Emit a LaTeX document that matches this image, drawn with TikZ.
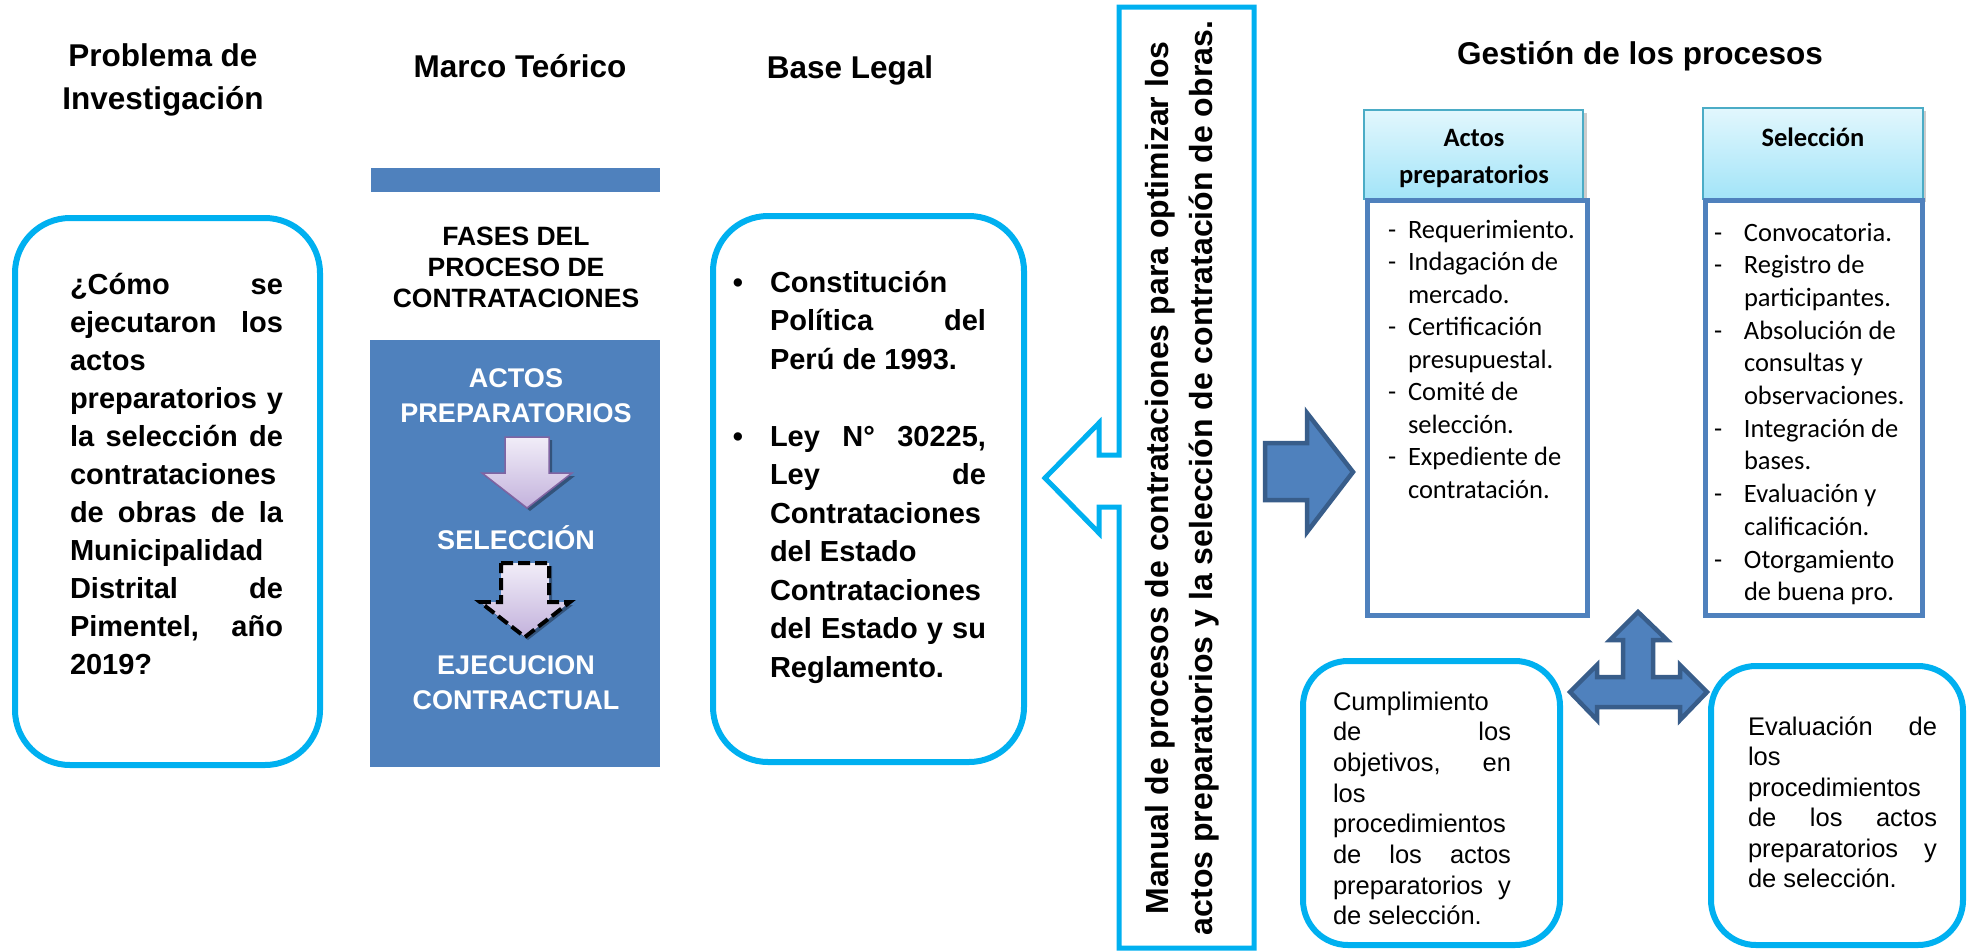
\documentclass[tikz,border=0pt]{standalone}
\usepackage{fontspec}
\setmainfont{Liberation Sans}
\newfontfamily\carlito{Carlito}
\usetikzlibrary{shadows}
\definecolor{cyanb}{HTML}{00B0F0}
\definecolor{blu}{HTML}{4F81BD}
\definecolor{dblu}{HTML}{385D8A}
\definecolor{hdrtop}{HTML}{E2F7FD}
\definecolor{hdrbot}{HTML}{A2E4F8}
\definecolor{hdrline}{HTML}{4BACC6}
\definecolor{lavtop}{HTML}{F1EDF8}
\definecolor{lavbot}{HTML}{C3B2DC}
\definecolor{purp}{HTML}{8064A2}
\newcommand{\jl}[2]{\makebox[#1][s]{#2}}
\newcommand{\fs}[2]{\fontsize{#1}{#2}\selectfont}
\tikzset{
  cbox/.style={draw=cyanb, line width=6pt, rounded corners=55pt, fill=white},
  sbox/.style={draw=cyanb, line width=6pt, rounded corners=45pt, fill=white},
  txt/.style={inner sep=0pt, outer sep=0pt, anchor=base},
  ttl/.style={txt, font={\fs{31.5}{42.6}\bfseries}},
  hdr/.style={draw=hdrline, line width=1.5pt, top color=hdrtop, bottom color=hdrbot},
  body/.style={draw=blu, line width=5pt, fill=white},
  barrow/.style={draw=dblu, line width=4.5pt, fill=blu, line join=miter},
  larrow/.style={draw=purp, line width=1.5pt, top color=lavtop, bottom color=lavbot},
  darrow/.style={draw=black, line width=4pt, dash pattern=on 12pt off 5pt, top color=lavtop, bottom color=lavbot},
  shad/.style={fill=black, opacity=0.35}
}
\begin{document}
\begin{tikzpicture}[x=1pt,y=-1pt]
\useasboundingbox (0,0) rectangle (1972,951);
\fill[white] (0,0) rectangle (1972,951);

% ---------- titles ----------
\node[ttl] (t1) at (163,66.7) {\parbox[t]{300pt}{\centering Problema de\\Investigación}};
\node[ttl] (t2) at (520,77) {Marco Teórico};
\node[ttl] (t3) at (850,78) {Base Legal};
\node[ttl] (t4) at (1640,64) {Gestión de los procesos};

% ---------- problema box ----------
\draw[cbox] (15,218) rectangle (320,765);
\node[txt, anchor=base west] (qtext) at (70,294) {\parbox[t]{213pt}{\fs{29}{38}\bfseries
\jl{213pt}{¿Cómo se}\\
\jl{213pt}{ejecutaron los}\\
actos\\
\jl{213pt}{preparatorios y}\\
\jl{213pt}{la selección de}\\
contrataciones\\
\jl{213pt}{de obras de la}\\
Municipalidad\\
\jl{213pt}{Distrital de}\\
\jl{213pt}{Pimentel, año}\\
2019?}};

% ---------- marco teorico ----------
\fill[blu] (371,168) rectangle (660,192);
\node[txt] (fases) at (516,245.5) {\parbox[t]{300pt}{\centering\fs{26.5}{31}\bfseries FASES DEL\\PROCESO DE\\CONTRATACIONES}};
\fill[blu] (370,340) rectangle (660,767);
\node[txt, text=white, font={\fs{27}{35}\bfseries}] (ph1) at (516,387.5) {\parbox[t]{280pt}{\centering ACTOS\\PREPARATORIOS}};
\node[txt, text=white, font={\fs{27}{35}\bfseries}] (ph2) at (516,549.5) {SELECCIÓN};
\node[txt, text=white, font={\fs{27}{35}\bfseries}] (ph3) at (516,674) {\parbox[t]{280pt}{\centering EJECUCION\\CONTRACTUAL}};
% arrow 1
\fill[shad] (508,440) -- (552,440) -- (552,476) -- (575,476) -- (530,511) -- (485,476) -- (508,476) -- cycle;
\path[larrow] (505,437) -- (549,437) -- (549,473) -- (572,473) -- (527,508) -- (482,473) -- (505,473) -- cycle;
% arrow 2
\fill[shad] (504,566) -- (552,566) -- (552,605) -- (573,605) -- (528,640) -- (483,605) -- (504,605) -- cycle;
\path[darrow] (501,563) -- (549,563) -- (549,602) -- (570,602) -- (525,637) -- (480,602) -- (501,602) -- cycle;

% ---------- base legal ----------
\draw[cbox] (713,216) rectangle (1024,762);
\node[txt, font={\fs{29}{38.5}\bfseries}] (b1) at (738,292) {•};
\node[txt, font={\fs{29}{38.5}\bfseries}] (b2) at (738,446) {•};
\node[txt, anchor=base west] (btext) at (770,292) {\parbox[t]{216pt}{\fs{29}{38.5}\bfseries
Constitución\\
\jl{216pt}{Política del}\\
Perú de 1993.\\
\mbox{}\\
\jl{216pt}{Ley N° 30225,}\\
\jl{216pt}{Ley de}\\
Contrataciones\\
del Estado\\
Contrataciones\\
\jl{216pt}{del Estado y su}\\
Reglamento.}};

% ---------- callout (left arrow) ----------
\draw[cyanb, line width=5pt, fill=white, line join=miter] (1119,7) -- (1254,7) -- (1254,948) -- (1119,948) -- (1119,507) -- (1099,507) -- (1099,533) -- (1045,478) -- (1099,423) -- (1099,455) -- (1119,455) -- cycle;
\node[txt, rotate=90, font={\fs{32}{38}\bfseries}] (man1) at (1168,478) {Manual de procesos de contrataciones para optimizar los};
\node[txt, rotate=90, font={\fs{32}{38}\bfseries}] (man2) at (1212,478) {actos preparatorios y la selección de contratación de obras.};

% ---------- right blue arrow ----------
\path[barrow] (1265,443) -- (1307,443) -- (1307,413) -- (1353,472) -- (1307,532) -- (1307,500) -- (1265,500) -- cycle;

% ---------- actos preparatorios ----------
\fill[black, opacity=0.2] (1367,113) rectangle (1587,203);
\path[hdr] (1364,110) rectangle (1583,199);
\draw[body] (1367,200) rectangle (1587,615);
\node[txt, font={\carlito\fs{26.5}{37}\bfseries}] (ah) at (1474,146) {\parbox[t]{215pt}{\centering Actos\\preparatorios}};
\node[txt, anchor=base west] (alist) at (1388,238) {\parbox[t]{196pt}{\carlito\fs{26.5}{32.5}
\makebox[20pt][l]{-}Requerimiento.\\
\makebox[20pt][l]{-}Indagación de\\
\hspace*{20pt}mercado.\\
\makebox[20pt][l]{-}Certificación\\
\hspace*{20pt}presupuestal.\\
\makebox[20pt][l]{-}Comité de\\
\hspace*{20pt}selección.\\
\makebox[20pt][l]{-}Expediente de\\
\hspace*{20pt}contratación.}};

% ---------- seleccion ----------
\fill[black, opacity=0.2] (1706,111) rectangle (1926,202);
\path[hdr] (1703,108) rectangle (1923,199);
\draw[body] (1705,200) rectangle (1922,615);
\node[txt, font={\carlito\fs{26.5}{37}\bfseries}] (sh) at (1813,146) {Selección};
\node[txt, anchor=base west] (slist) at (1714,241) {\parbox[t]{203pt}{\carlito\fs{26.5}{32.7}
\makebox[30pt][l]{-}Convocatoria.\\
\makebox[30pt][l]{-}Registro de\\
\hspace*{30pt}participantes.\\
\makebox[30pt][l]{-}Absolución de\\
\hspace*{30pt}consultas y\\
\hspace*{30pt}observaciones.\\
\makebox[30pt][l]{-}Integración de\\
\hspace*{30pt}bases.\\
\makebox[30pt][l]{-}Evaluación y\\
\hspace*{30pt}calificación.\\
\makebox[30pt][l]{-}Otorgamiento\\
\hspace*{30pt}de buena pro.}};

% ---------- three-way arrow ----------
\path[barrow] (1638,612) -- (1667,640) -- (1653,640) -- (1653,677) -- (1680,677) -- (1680,665) -- (1707,692) -- (1680,720) -- (1680,707) -- (1597,707) -- (1597,720) -- (1570,692) -- (1597,665) -- (1597,677) -- (1623,677) -- (1623,640) -- (1610,640) -- cycle;

% ---------- bottom boxes ----------
\draw[sbox] (1303,661) rectangle (1560,945);
\node[txt, anchor=base west] (ctext) at (1333,710) {\parbox[t]{178pt}{\fs{25.5}{30.7}
Cumplimiento\\
\jl{178pt}{de los}\\
\jl{178pt}{objetivos, en}\\
los\\
procedimientos\\
\jl{178pt}{de los actos}\\
\jl{178pt}{preparatorios y}\\
de selección.}};

\draw[sbox] (1711,666) rectangle (1963,945);
\node[txt, anchor=base west] (etext) at (1748,735) {\parbox[t]{189pt}{\fs{25.5}{30.5}
\jl{189pt}{Evaluación de}\\
los\\
procedimientos\\
\jl{189pt}{de los actos}\\
\jl{189pt}{preparatorios y}\\
de selección.}};
\end{tikzpicture}
\end{document}
